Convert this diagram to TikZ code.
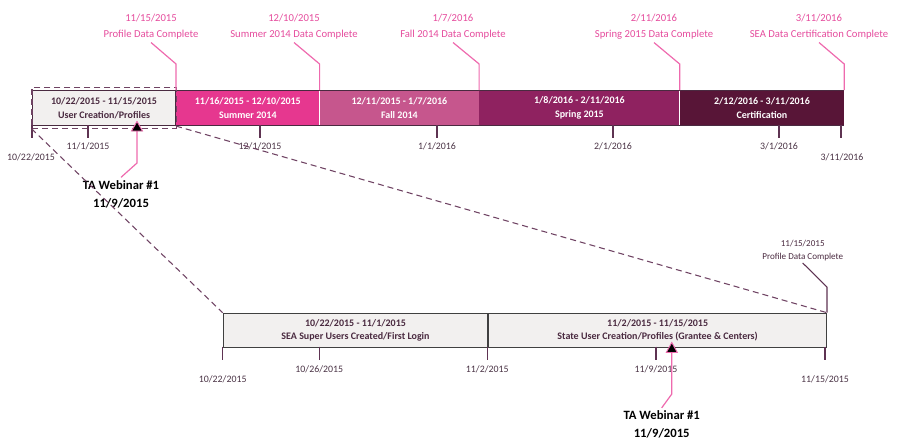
\documentclass[tikz,border=0pt]{standalone}
\usepackage{fontspec}
\setmainfont{Carlito}
\usetikzlibrary{calc,fit}
\definecolor{pinktxt}{HTML}{E54C9D}
\definecolor{pinkln}{HTML}{EE6AAE}
\definecolor{segedge}{HTML}{4A2A40}
\definecolor{lightseg}{HTML}{F2F0EF}
\definecolor{segtext}{HTML}{4A2A40}
\definecolor{summer}{HTML}{E6378F}
\definecolor{fall}{HTML}{C6568D}
\definecolor{spring}{HTML}{8F2260}
\definecolor{cert}{HTML}{581537}
\definecolor{tickc}{HTML}{5E3352}
\definecolor{ticktxt}{HTML}{4A3345}
\definecolor{zoomc}{HTML}{6F4363}
\definecolor{baredge}{HTML}{404040}
\begin{document}
\begin{tikzpicture}[x=0.75pt,y=-0.75pt,
  seg/.style={anchor=north west, minimum height=26.25pt, inner sep=0pt,
    align=center, text=white, font=\bfseries\fontsize{7.5}{10.5}\selectfont},
  lowseg/.style={anchor=north west, minimum height=25.5pt, inner sep=0pt,
    align=center, fill=lightseg, draw=baredge, line width=0.7pt, text=segtext,
    font=\bfseries\fontsize{7.5}{10}\selectfont},
  callout/.style={align=center, text=pinktxt, inner sep=2pt,
    font=\fontsize{8}{12}\selectfont},
  calloutdark/.style={align=center, text=segtext, inner sep=1.5pt,
    font=\fontsize{6.8}{9.5}\selectfont},
  pinkline/.style={draw=pinkln, line width=0.9pt},
  tickmark/.style={draw=tickc, line width=0.8pt},
  ticklbl/.style={text=ticktxt, inner sep=0pt, font=\fontsize{7.4}{9}\selectfont},
  zoomline/.style={draw=zoomc, line width=0.8pt, dash pattern=on 4.5pt off 3pt},
  webinar/.style={align=center, inner sep=2pt, font=\bfseries\fontsize{9.5}{13.5}\selectfont},
  marker/.style={fill=black, draw=pinkln, line width=0.7pt, line join=miter}
]
\useasboundingbox (0,0) rectangle (899,440);

% ---------- overall timeline ----------
\node[seg, fill=lightseg, draw=segedge, line width=0.8pt, text=segtext,
      minimum width=107.25pt] (s1) at (32,90) {10/22/2015 - 11/15/2015\\User Creation/Profiles};
\node[seg, fill=summer, minimum width=107.25pt] (s2) at (s1.north east) {11/16/2015 - 12/10/2015\\Summer 2014};
\node[seg, fill=fall,   minimum width=119.25pt] (s3) at (s2.north east) {12/11/2015 - 1/7/2016\\Fall 2014};
\node[seg, fill=spring, minimum width=150pt]    (s4) at (s3.north east) {1/8/2016 - 2/11/2016\\Spring 2015};
\node[seg, fill=cert,   minimum width=123pt]    (s5) at (s4.north east) {2/12/2016 - 3/11/2016\\Certification};
\draw[segedge, line width=0.6pt] (s2.north west) -- (s5.north east);
\draw[segedge, line width=0.6pt] (s2.south west) -- (s5.south east);

% dashed frame around the first phase
\node[fit=(s1), inner xsep=0pt, inner ysep=1.6pt, zoomline] (zbox) {};

% month ticks
\coordinate (d1022) at (32,125);
\coordinate (d1101) at (88,125);
\coordinate (d1201) at (260,125);
\coordinate (d0101) at (437,125);
\coordinate (d0201) at (613,125);
\coordinate (d0301) at (779,125);
\coordinate (d0311) at (841,125);
\foreach \d in {d1022,d1101,d1201,d0101,d0201,d0301,d0311}
  \draw[tickmark] (\d) -- ++(0,12.5);
\node[ticklbl] (l1022) at (31,157) {10/22/2015};
\node[ticklbl] (l1101) at (88,146) {11/1/2015};
\node[ticklbl] (l1201) at (260,146) {12/1/2015};
\node[ticklbl] (l0101) at (437,146) {1/1/2016};
\node[ticklbl] (l0201) at (613,146) {2/1/2016};
\node[ticklbl] (l0301) at (779,146) {3/1/2016};
\node[ticklbl] (l0311) at (842,157) {3/11/2016};

% milestone callouts
\coordinate (knee) at (0,64);
\node[callout] (c1) at (151,27) {11/15/2015\\Profile Data Complete};
\node[callout] (c2) at (294,27) {12/10/2015\\Summer 2014 Data Complete};
\node[callout] (c3) at (453,27) {1/7/2016\\Fall 2014 Data Complete};
\node[callout] (c4) at (654,27) {2/11/2016\\Spring 2015 Data Complete};
\node[callout] (c5) at (819,27) {3/11/2016\\SEA Data Certification Complete};
\draw[pinkline] (c1.south) -- (s1.north east |- knee) -- (s1.north east);
\draw[pinkline] (c2.south) -- (s2.north east |- knee) -- (s2.north east);
\draw[pinkline] (c3.south) -- (s3.north east |- knee) -- (s3.north east);
\draw[pinkline] (c4.south) -- (s4.north east |- knee) -- (s4.north east);
\draw[pinkline] (c5.south) -- (s5.north east |- knee) -- (s5.north east);

% webinar marker on the overall timeline
\node[webinar] (w1) at (121,194) {TA Webinar \#1\\11/9/2015};
\coordinate (w1tip) at (137,121.5);
\coordinate (w1base) at (137,131);
\draw[pinkline] (w1.north) -- (w1tip |- 0,163) -- (w1base);
\draw[marker] (w1tip) -- ($(w1base)+(-5.5,0)$) -- ($(w1base)+(5.5,0)$) -- cycle;

% ---------- detail of the first phase ----------
\node[lowseg, minimum width=198.5pt] (b1) at (222.7,312.7) {10/22/2015 - 11/1/2015\\SEA Super Users Created/First Login};
\node[lowseg, minimum width=253.3pt] (b2) at (b1.north east) {11/2/2015 - 11/15/2015\\State User Creation/Profiles (Grantee \& Centers)};

% zoom guides
\draw[zoomline] (zbox.south west) -- (b1.north west);
\draw[zoomline] (s1.south east) -- (b2.north east);

% detail ticks
\coordinate (e1022) at (222.7,346.7);
\coordinate (e1026) at (319.3,346.7);
\coordinate (e1102) at (487.3,346.7);
\coordinate (e1109) at (656,346.7);
\coordinate (e1115) at (825,346.7);
\foreach \d in {e1022,e1026,e1102,e1109,e1115}
  \draw[tickmark] (\d) -- ++(0,13);
\node[ticklbl] (m1022) at (222.7,379) {10/22/2015};
\node[ticklbl] (m1026) at (319.3,369) {10/26/2015};
\node[ticklbl] (m1102) at (487.3,369) {11/2/2015};
\node[ticklbl] (m1109) at (656,369) {11/9/2015};
\node[ticklbl] (m1115) at (825,379) {11/15/2015};

% detail milestone
\node[calloutdark] (c6) at (802.7,250.5) {11/15/2015\\Profile Data Complete};
\draw[tickmark] (c6.south) -- (b2.north east |- 0,287) -- (b2.north east);

% webinar marker on the detail
\node[webinar] (w2) at (661.7,424.5) {TA Webinar \#1\\11/9/2015};
\coordinate (w2tip) at (671.8,342.5);
\coordinate (w2base) at (671.8,352.5);
\draw[pinkline] (w2.north) -- (w2tip |- 0,394) -- (w2base);
\draw[marker] (w2tip) -- ($(w2base)+(-5.5,0)$) -- ($(w2base)+(5.5,0)$) -- cycle;
\end{tikzpicture}
\end{document}
